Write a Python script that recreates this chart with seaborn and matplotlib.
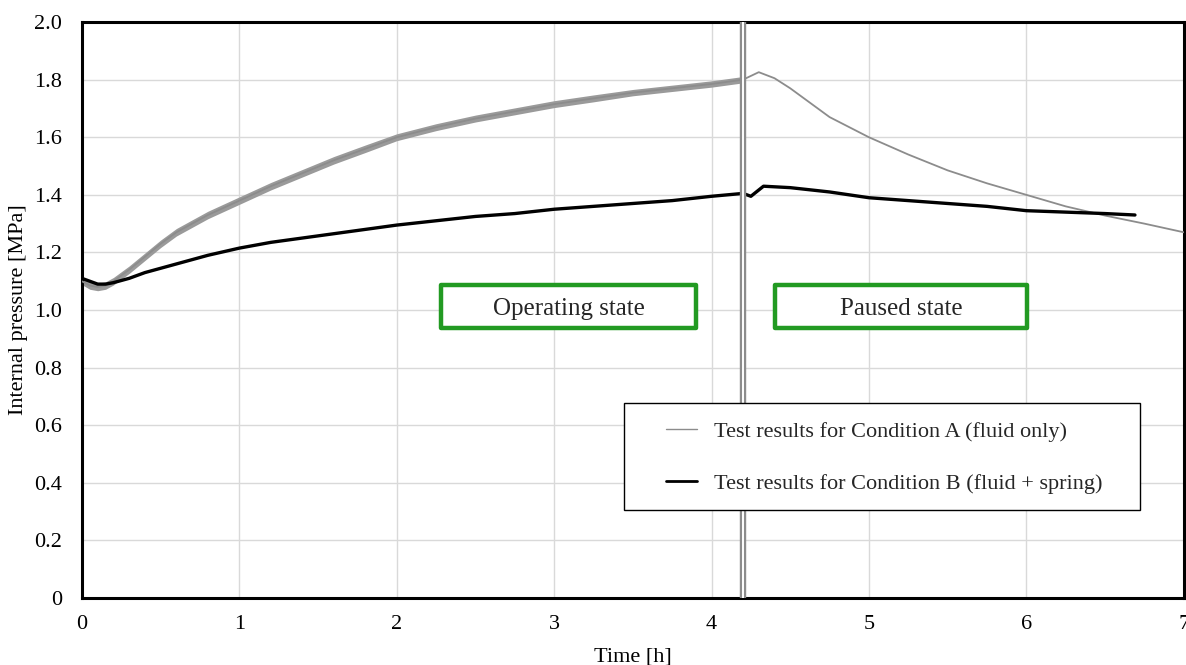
import numpy as np
import pandas as pd
import matplotlib
matplotlib.use("Agg")
import matplotlib.pyplot as plt
from matplotlib.patches import Rectangle
import seaborn as sns

# time [h] and internal pressure [MPa]
time_a = [0, 0.05, 0.1, 0.15, 0.2, 0.3, 0.4, 0.5, 0.6, 0.8, 1.0, 1.2, 1.4, 1.6, 1.8,
          2.0, 2.25, 2.5, 2.75, 3.0, 3.25, 3.5, 3.75, 4.0, 4.2,
          4.3, 4.4, 4.5, 4.75, 5.0, 5.25, 5.5, 5.75, 6.0, 6.25, 6.5, 6.75, 7.0]
press_a = [1.10, 1.085, 1.08, 1.085, 1.10, 1.14, 1.185, 1.23, 1.27, 1.33, 1.38, 1.43, 1.475, 1.52, 1.56,
           1.60, 1.635, 1.665, 1.69, 1.715, 1.735, 1.755, 1.77, 1.785, 1.80,
           1.826, 1.805, 1.77, 1.67, 1.60, 1.54, 1.485, 1.44, 1.40, 1.36, 1.328, 1.30, 1.27]
# scatter band of condition A during operation (half width, MPa)
spread_a = [0.012, 0.013, 0.013, 0.013, 0.013, 0.013, 0.013, 0.013, 0.013, 0.013, 0.013, 0.013, 0.013, 0.013, 0.013,
            0.012, 0.012, 0.012, 0.012, 0.012, 0.012, 0.011, 0.011, 0.011, 0.011]

time_b = [0, 0.05, 0.1, 0.15, 0.2, 0.3, 0.4, 0.5, 0.6, 0.8, 1.0, 1.2, 1.4, 1.6, 1.8,
          2.0, 2.25, 2.5, 2.75, 3.0, 3.25, 3.5, 3.75, 4.0, 4.2,
          4.25, 4.33, 4.5, 4.75, 5.0, 5.25, 5.5, 5.75, 6.0, 6.25, 6.5, 6.69]
press_b = [1.11, 1.10, 1.09, 1.09, 1.095, 1.11, 1.13, 1.145, 1.16, 1.19, 1.215, 1.235, 1.25, 1.265, 1.28,
           1.295, 1.31, 1.325, 1.335, 1.35, 1.36, 1.37, 1.38, 1.395, 1.405,
           1.395, 1.43, 1.425, 1.41, 1.39, 1.38, 1.37, 1.36, 1.345, 1.34, 1.335, 1.33]

label_a = "Test results for Condition A (fluid only)"
label_b = "Test results for Condition B (fluid + spring)"
switch_time = 4.2
states = ["Operating state", "Paused state"]
state_spans = [(2.283, 3.90), (4.40, 6.005)]

df_a = pd.DataFrame({"t": time_a, "p": press_a})
df_b = pd.DataFrame({"t": time_b, "p": press_b})

sns.set_theme(style="whitegrid")
plt.rcParams["font.family"] = ["Liberation Serif", "DejaVu Serif"]

fig = plt.figure(figsize=(11.86, 6.65), dpi=100)
ax = fig.add_axes([0.0691, 0.1008, 0.929, 0.866])

n_op = len(spread_a)
op_t = np.array(time_a[:n_op])
op_p = np.array(press_a[:n_op])
op_s = np.array(spread_a)
ax.fill_between(op_t, op_p - op_s, op_p + op_s, color="#9a9a9a", lw=0, zorder=2)

sns.lineplot(data=df_a, x="t", y="p", color="#8c8c8c", lw=1.3, ax=ax, label=label_a, zorder=3)
sns.lineplot(data=df_b, x="t", y="p", color="black", lw=2.4, ax=ax, label=label_b, zorder=4)

# break marker between operating and paused state
ax.axvline(switch_time, color="#8c8c8c", lw=4.6, zorder=5)
ax.axvline(switch_time, color="white", lw=1.4, zorder=6)

ax.set_xlim(0, 7)
ax.set_ylim(0, 2.0)
ax.set_xticks(range(0, 8))
ax.set_yticks(np.arange(0, 2.01, 0.2))
ax.set_yticklabels(["0"] + [f"{v:.1f}" for v in np.arange(0.2, 2.01, 0.2)])
ax.tick_params(direction="in", length=5, width=1, color="#555555", labelsize=16, labelcolor="black")
ax.tick_params(axis="y", pad=14.5)
ax.tick_params(axis="x", pad=12)
ax.grid(True, color="#d9d9d9", lw=1)
for s in ax.spines.values():
    s.set_color("black")
    s.set_linewidth(2.2)

ax.set_xlabel("Time [h]", fontsize=16, color="black", labelpad=10)
ax.set_ylabel("Internal pressure [MPa]", fontsize=16, color="black", labelpad=4)

# state annotations
for name, (x0, x1) in zip(states, state_spans):
    ax.add_patch(Rectangle((x0, 0.9375), x1 - x0, 0.15, fc="white", ec="#229a22",
                           lw=3.2, joinstyle="round", zorder=7))
    ax.text((x0 + x1) / 2, 1.005, name, fontsize=18, ha="center", va="center", zorder=8)

# legend frame and entries
ax.add_patch(Rectangle((0.492, 0.153), 0.468, 0.186, transform=ax.transAxes,
                       fc="white", ec="black", lw=1, zorder=9))
leg = ax.legend(loc="center left", bbox_to_anchor=(0.530, 0.244), frameon=False,
                fontsize=16, borderpad=0, borderaxespad=0, labelspacing=1.42,
                handlelength=1.4, handletextpad=0.75)
leg.set_zorder(10)
for h in leg.get_lines():
    h.set_linewidth(1.0 if h.get_label() == label_a else 2.0)

plt.savefig("out.png", dpi=100, facecolor="w")
